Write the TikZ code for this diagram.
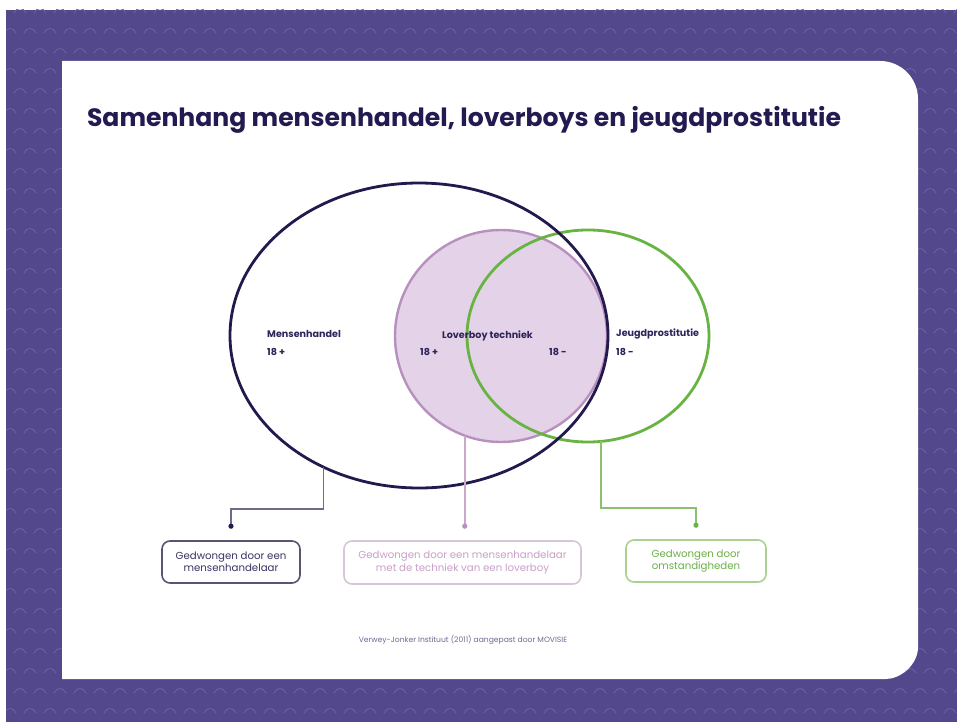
\documentclass[tikz,border=0pt]{standalone}
\usepackage{fontspec}
\setmainfont{Poppins}
\usetikzlibrary{calc,shapes.geometric}
\definecolor{bgpurple}{RGB}{84,72,140}
\definecolor{bgpat}{RGB}{106,96,162}
\definecolor{titlec}{RGB}{36,26,82}
\definecolor{darkc}{RGB}{34,26,78}
\definecolor{pinkfill}{RGB}{228,210,232}
\definecolor{pinkline}{RGB}{184,144,190}
\definecolor{greenc}{RGB}{104,180,66}
\definecolor{lblc}{RGB}{46,36,88}
\definecolor{conndark}{RGB}{110,106,136}
\definecolor{connpink}{RGB}{200,170,200}
\definecolor{conngreen}{RGB}{140,192,110}
\definecolor{boxdark}{RGB}{88,84,116}
\definecolor{boxpink}{RGB}{214,198,214}
\definecolor{boxgreen}{RGB}{170,208,146}
\definecolor{txtdark}{RGB}{58,52,98}
\definecolor{txtpink}{RGB}{200,160,200}
\definecolor{txtgreen}{RGB}{108,176,72}
\definecolor{footc}{RGB}{110,106,146}
\begin{document}
\begin{tikzpicture}[x=1pt,y=-1pt,
  circ/.style={ellipse, inner sep=0pt, outer sep=0pt},
  lbl/.style={anchor=west, inner sep=0pt, text=lblc, font=\fontsize{9.6}{11}\selectfont\bfseries},
  box/.style={rounded corners=8pt, line width=1.6pt, align=center, inner sep=0pt,
    font=\fontsize{10.2}{12.5}\selectfont},
  conn/.style={line width=1.6pt},
  patline/.style={draw=bgpat, line width=0.9pt, line cap=round}
]
\useasboundingbox (0,0) rectangle (957,722);
\fill[white] (0,0) rectangle (957,722);
\fill[bgpurple] (6,10) rectangle (957,722);
\begin{scope}
\clip (6,10) rectangle (957,722);
\foreach \j in {0,...,36} {
  \foreach \i in {0,...,49} {
    \pgfmathsetmacro{\xx}{\i*20+mod(\j,2)*10}
    \pgfmathsetmacro{\yy}{10+\j*20}
    \draw[patline] (\xx-6,\yy+3) .. controls (\xx-3,\yy-3) and (\xx+3,\yy-3) .. (\xx+6,\yy+3);
  }
}
\end{scope}
% card
\fill[white] (62,61) -- (880,61) .. controls (901,61) and (918,78) .. (918,99)
  -- (918,647) .. controls (918,665) and (900,679) .. (886,679) -- (62,679) -- cycle;
% title
\node[text=titlec, font=\fontsize{25.1}{29}\selectfont\bfseries, inner sep=0pt] (title) at (464,120)
  {Samenhang mensenhandel, loverboys en jeugdprostitutie};
% circles
\node[circ, fill=pinkfill, draw=pinkline, line width=2.4pt, minimum width=212pt, minimum height=212pt] (lb) at (501,336) {};
\node[circ, draw=greenc, line width=2.8pt, minimum width=242pt, minimum height=212pt] (gr) at (588,336) {};
\node[circ, draw=darkc, line width=2.8pt, minimum width=378pt, minimum height=305pt] (mh) at (419,335.5) {};
% labels
\node[lbl] (tmh) at (267,334) {Mensenhandel};
\node[lbl] (tmh2) at (267,352) {18 +};
\node[lbl] (tlb) at (442,336) {Loverboy techniek};
\node[lbl] (tlb2) at (420,352) {18 +};
\node[lbl] (tlb3) at (549,352) {18 -};
\node[lbl] (tjp) at (616,334) {Jeugdprostitutie};
\node[lbl] (tjp2) at (616,352) {18 -};
% boxes
\node[box, draw=boxdark, text=txtdark, minimum width=138pt, minimum height=42pt] (b1) at (231,562)
  {Gedwongen door een\\mensenhandelaar};
\node[box, draw=boxpink, text=txtpink, minimum width=237pt, minimum height=43pt] (b2) at (462.5,562.5)
  {Gedwongen door een mensenhandelaar\\met de techniek van een loverboy};
\node[box, draw=boxgreen, text=txtgreen, minimum width=140pt, minimum height=42pt] (b3) at (696,561)
  {Gedwongen door\\omstandigheden};
% connectors
\coordinate (d1) at ($(b1.north)+(0,-14)$);
\coordinate (m1) at ($(d1)+(0,-17)$);
\coordinate (d2) at ($(lb.-110 |- b2.north)+(0,-14)$);
\coordinate (d3) at ($(b3.north)+(0,-14)$);
\coordinate (m3) at ($(d3)+(0,-17)$);
\draw[conn, draw=conndark] (mh.-126) |- (m1) -- (d1);
\fill[darkc] (d1) circle (2.6pt);
\draw[conn, draw=connpink] (lb.-110) -- (d2);
\fill[pinkline] (d2) circle (2.6pt);
\draw[conn, draw=conngreen] (gr.-83.5) |- (m3) -- (d3);
\fill[greenc] (d3) circle (2.6pt);
% source
\node[text=footc, font=\fontsize{7.6}{9}\selectfont, inner sep=0pt] (src) at (463,640)
  {Verwey-Jonker Instituut (2011) aangepast door MOVISIE};
\end{tikzpicture}
\end{document}
